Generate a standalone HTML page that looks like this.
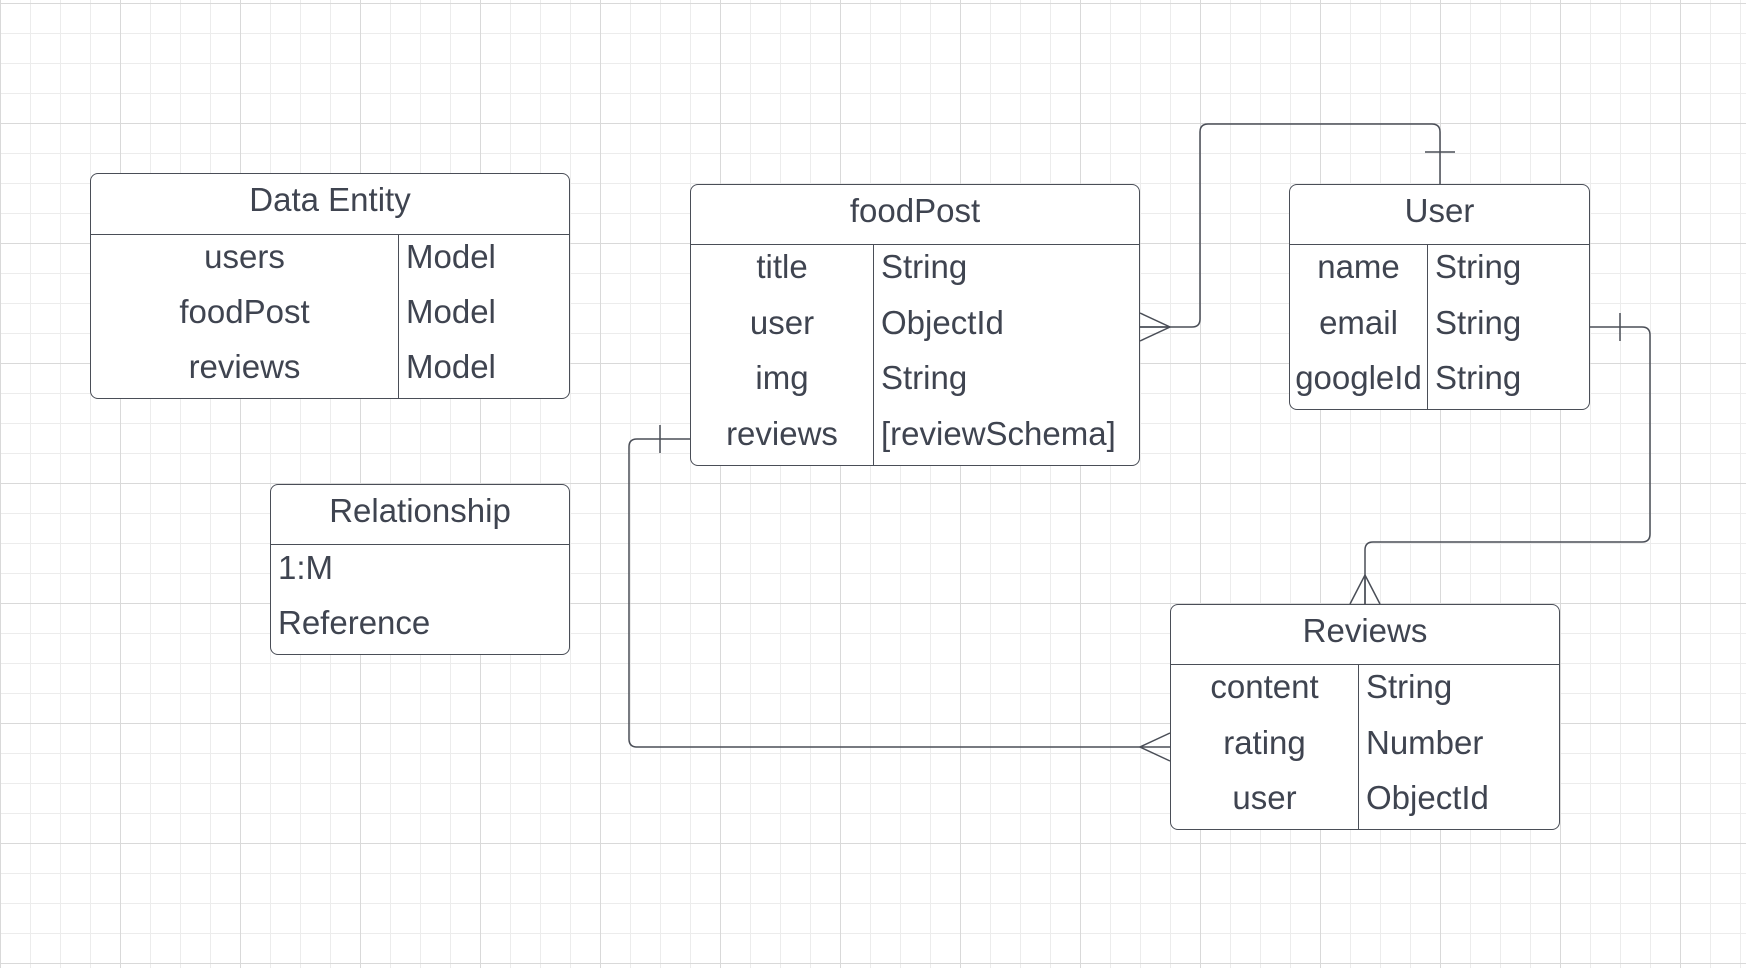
<!DOCTYPE html>
<html><head><style>
html,body{margin:0;padding:0;}
body{width:1746px;height:968px;overflow:hidden;background:#fff;position:relative;font-family:"Liberation Sans",sans-serif;color:#3f4450;}
.grid{position:absolute;left:0;top:0;width:1746px;height:968px;
background-image:
linear-gradient(to right,#d9d9d9 1px,transparent 1px),
linear-gradient(to bottom,#d9d9d9 1px,transparent 1px),
linear-gradient(to right,#ececec 1px,transparent 1px),
linear-gradient(to bottom,#ececec 1px,transparent 1px);
background-size:120px 120px,120px 120px,30px 30px,30px 30px;
background-position:0 3px,0 3px,0 3px,0 3px;}
.box{position:absolute;border:1.5px solid #4a4e57;border-radius:8px;background:#fff;box-sizing:border-box;}
.hd{position:absolute;left:0;right:0;top:0;border-bottom:1.5px solid #4a4e57;text-align:center;font-size:33px;}
.t{position:absolute;font-size:33px;white-space:nowrap;line-height:40px;}
.c{text-align:center;}
.vd{position:absolute;top:0;bottom:0;border-left:1.5px solid #4a4e57;}
svg{position:absolute;left:0;top:0;}
</style></head><body>
<div class="grid"></div>

<div class="box" style="left:90px;top:173px;width:480px;height:226px;">
  <div class="hd" style="height:60px;line-height:52px;">Data Entity</div>
  <div class="vd" style="left:307px;top:60px;"></div>
  <div class="t c" style="left:0;width:307px;top:63px;">users</div>
  <div class="t c" style="left:0;width:307px;top:118px;">foodPost</div>
  <div class="t c" style="left:0;width:307px;top:173px;">reviews</div>
  <div class="t" style="left:315px;top:63px;">Model</div>
  <div class="t" style="left:315px;top:118px;">Model</div>
  <div class="t" style="left:315px;top:173px;">Model</div>
</div>

<div class="box" style="left:270px;top:484px;width:300px;height:171px;">
  <div class="hd" style="height:59px;line-height:52px;">Relationship</div>
  <div class="t" style="left:7px;top:63px;">1:M</div>
  <div class="t" style="left:7px;top:118px;">Reference</div>
</div>

<div class="box" style="left:690px;top:184px;width:450px;height:282px;">
  <div class="hd" style="height:59px;line-height:52px;">foodPost</div>
  <div class="vd" style="left:182px;top:59px;"></div>
  <div class="t c" style="left:0;width:182px;top:62px;">title</div>
  <div class="t c" style="left:0;width:182px;top:118px;">user</div>
  <div class="t c" style="left:0;width:182px;top:173px;">img</div>
  <div class="t c" style="left:0;width:182px;top:229px;">reviews</div>
  <div class="t" style="left:190px;top:62px;">String</div>
  <div class="t" style="left:190px;top:118px;">ObjectId</div>
  <div class="t" style="left:190px;top:173px;">String</div>
  <div class="t" style="left:190px;top:229px;">[reviewSchema]</div>
</div>

<div class="box" style="left:1289px;top:184px;width:301px;height:226px;">
  <div class="hd" style="height:59px;line-height:52px;">User</div>
  <div class="vd" style="left:137px;top:59px;"></div>
  <div class="t c" style="left:0;width:137px;top:62px;">name</div>
  <div class="t c" style="left:0;width:137px;top:118px;">email</div>
  <div class="t c" style="left:0;width:137px;top:173px;">googleId</div>
  <div class="t" style="left:145px;top:62px;">String</div>
  <div class="t" style="left:145px;top:118px;">String</div>
  <div class="t" style="left:145px;top:173px;">String</div>
</div>

<div class="box" style="left:1170px;top:604px;width:390px;height:226px;">
  <div class="hd" style="height:59px;line-height:52px;">Reviews</div>
  <div class="vd" style="left:187px;top:59px;"></div>
  <div class="t c" style="left:0;width:187px;top:62px;">content</div>
  <div class="t c" style="left:0;width:187px;top:118px;">rating</div>
  <div class="t c" style="left:0;width:187px;top:173px;">user</div>
  <div class="t" style="left:195px;top:62px;">String</div>
  <div class="t" style="left:195px;top:118px;">Number</div>
  <div class="t" style="left:195px;top:173px;">ObjectId</div>
</div>

<svg width="1746" height="968" fill="none" stroke="#4a4e57" stroke-width="1.5">
  <path d="M1140 327 H1192 Q1200 327 1200 319 V132 Q1200 124 1208 124 H1432 Q1440 124 1440 132 V184"/>
  <path d="M1140 313 L1170 327 L1140 341 M1140 327 H1170"/>
  <path d="M1425 152 H1455"/>
  <path d="M1590 327 H1642 Q1650 327 1650 335 V534 Q1650 542 1642 542 H1373 Q1365 542 1365 550 V604"/>
  <path d="M1620 313 V341"/>
  <path d="M1350 604 L1365 575 L1380 604 M1365 575 V604"/>
  <path d="M690 439 H637 Q629 439 629 447 V739 Q629 747 637 747 H1170"/>
  <path d="M660 425 V453"/>
  <path d="M1170 733 L1140 747 L1170 761"/>
</svg>
</body></html>
